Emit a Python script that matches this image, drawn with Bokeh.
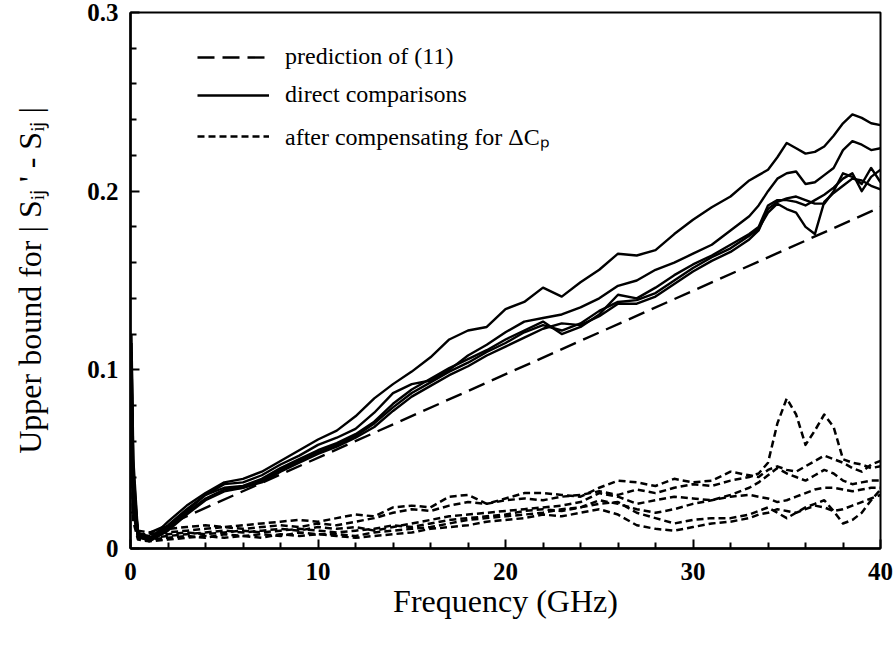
from bokeh.plotting import figure
from bokeh.models import (Range1d, FixedTicker, CustomJSTickFormatter,
                          Legend, LegendItem)
from bokeh.embed import file_html
from bokeh.resources import INLINE

# ---------------- data ----------------
FREQ = [0.05, 0.15, 0.4, 1, 2, 3, 4, 5, 6, 7, 8, 9, 10, 11, 12, 13, 14, 15, 16,
        17, 18, 19, 20, 21, 22, 23, 24, 25, 26, 27, 28, 29, 30, 31, 32,
        33, 33.5, 34, 34.5, 35, 35.5, 36, 36.5, 37, 37.5, 38, 38.5, 39, 39.5, 40]

PRED_F = [1.0, 40.0]
PRED_V = [0.0087, 0.191]

DIRECT_1 = [0.12, 0.05, 0.008,
            0.005, 0.015, 0.024, 0.031, 0.037, 0.039, 0.043, 0.049, 0.055, 0.061,
            0.066, 0.074, 0.084, 0.092, 0.099, 0.107, 0.117, 0.122, 0.124, 0.134,
            0.138, 0.146, 0.141, 0.149, 0.156, 0.165, 0.164, 0.167, 0.176, 0.184,
            0.191, 0.197,
            0.206, 0.209, 0.212, 0.219, 0.227, 0.224, 0.221, 0.222, 0.225, 0.231,
            0.238, 0.243, 0.241, 0.238, 0.237]
DIRECT_2 = [0.11, 0.04, 0.007,
            0.005, 0.013, 0.022, 0.030, 0.036, 0.037, 0.041, 0.047, 0.052, 0.058,
            0.062, 0.067, 0.076, 0.087, 0.092, 0.094, 0.100, 0.108, 0.114, 0.121,
            0.127, 0.129, 0.131, 0.135, 0.140, 0.147, 0.150, 0.156, 0.160, 0.165,
            0.170, 0.178,
            0.186, 0.192, 0.200, 0.207, 0.210, 0.211, 0.204, 0.205, 0.209, 0.213,
            0.223, 0.228, 0.226, 0.223, 0.224]
DIRECT_3 = [0.10, 0.035, 0.009,
            0.006, 0.012, 0.021, 0.030, 0.034, 0.035, 0.039, 0.045, 0.050, 0.055,
            0.059, 0.064, 0.071, 0.081, 0.089, 0.095, 0.101, 0.106, 0.111, 0.117,
            0.122, 0.127, 0.120, 0.124, 0.131, 0.142, 0.140, 0.146, 0.153, 0.159,
            0.164, 0.170,
            0.176, 0.180, 0.192, 0.195, 0.195, 0.194, 0.192, 0.195, 0.198, 0.202,
            0.207, 0.210, 0.200, 0.208, 0.212]
DIRECT_4 = [0.09, 0.03, 0.006,
            0.005, 0.011, 0.020, 0.028, 0.033, 0.034, 0.038, 0.044, 0.049, 0.054,
            0.058, 0.063, 0.070, 0.079, 0.087, 0.093, 0.099, 0.104, 0.110, 0.115,
            0.121, 0.125, 0.122, 0.126, 0.133, 0.138, 0.139, 0.143, 0.150, 0.157,
            0.163, 0.168,
            0.175, 0.179, 0.188, 0.193, 0.190, 0.188, 0.180, 0.176, 0.194, 0.199,
            0.203, 0.207, 0.206, 0.203, 0.201]
DIRECT_5 = [0.115, 0.045, 0.007,
            0.004, 0.010, 0.019, 0.027, 0.032, 0.034, 0.037, 0.043, 0.048, 0.053,
            0.057, 0.062, 0.068, 0.077, 0.085, 0.091, 0.097, 0.102, 0.108, 0.113,
            0.118, 0.123, 0.126, 0.125, 0.130, 0.137, 0.137, 0.141, 0.148, 0.155,
            0.161, 0.166,
            0.173, 0.178, 0.190, 0.194, 0.196, 0.197, 0.195, 0.193, 0.193, 0.200,
            0.210, 0.208, 0.204, 0.213, 0.205]

COMP_1 = [0.10, 0.03, 0.008,
          0.008, 0.009, 0.010, 0.011, 0.012, 0.011, 0.012, 0.013, 0.012, 0.014,
          0.013, 0.015, 0.017, 0.020, 0.022, 0.021, 0.024, 0.026, 0.025, 0.027,
          0.028, 0.027, 0.029, 0.030, 0.032, 0.030, 0.033, 0.031, 0.034, 0.036,
          0.035, 0.038,
          0.040, 0.042, 0.048, 0.070, 0.084, 0.075, 0.058, 0.066, 0.075, 0.068,
          0.050, 0.048, 0.047, 0.045, 0.046]
COMP_2 = [0.09, 0.025, 0.010,
          0.009, 0.011, 0.012, 0.013, 0.012, 0.013, 0.014, 0.015, 0.016, 0.015,
          0.017, 0.019, 0.018, 0.023, 0.024, 0.023, 0.029, 0.030, 0.025, 0.028,
          0.031, 0.031, 0.030, 0.029, 0.034, 0.038, 0.037, 0.035, 0.039, 0.037,
          0.038, 0.043,
          0.041, 0.040, 0.044, 0.046, 0.044, 0.043, 0.046, 0.049, 0.052, 0.050,
          0.048, 0.045, 0.043, 0.047, 0.049]
COMP_3 = [0.08, 0.02, 0.007,
          0.006, 0.007, 0.008, 0.009, 0.010, 0.009, 0.010, 0.011, 0.010, 0.012,
          0.011, 0.012, 0.010, 0.012, 0.014, 0.016, 0.018, 0.019, 0.020, 0.021,
          0.022, 0.023, 0.024, 0.026, 0.031, 0.029, 0.025, 0.027, 0.029, 0.028,
          0.027, 0.030,
          0.034, 0.037, 0.041, 0.045, 0.042, 0.040, 0.038, 0.041, 0.044, 0.042,
          0.038, 0.036, 0.037, 0.038, 0.038]
COMP_4 = [0.07, 0.02, 0.006,
          0.005, 0.006, 0.007, 0.006, 0.008, 0.007, 0.008, 0.007, 0.009, 0.008,
          0.008, 0.007, 0.009, 0.010, 0.011, 0.012, 0.014, 0.016, 0.017, 0.018,
          0.019, 0.020, 0.022, 0.023, 0.025, 0.026, 0.020, 0.017, 0.014, 0.016,
          0.017, 0.017,
          0.019, 0.021, 0.023, 0.020, 0.017, 0.020, 0.023, 0.025, 0.027, 0.021,
          0.014, 0.016, 0.020, 0.027, 0.033]
COMP_5 = [0.06, 0.02, 0.008,
          0.007, 0.008, 0.009, 0.008, 0.009, 0.010, 0.009, 0.010, 0.011, 0.010,
          0.009, 0.010, 0.011, 0.013, 0.012, 0.014, 0.016, 0.017, 0.018, 0.019,
          0.021, 0.022, 0.021, 0.023, 0.027, 0.025, 0.022, 0.020, 0.022, 0.025,
          0.027, 0.029,
          0.030, 0.029, 0.028, 0.026, 0.027, 0.029, 0.031, 0.033, 0.034, 0.034,
          0.033, 0.032, 0.033, 0.034, 0.034]
COMP_6 = [0.05, 0.015, 0.005,
          0.004, 0.005, 0.006, 0.007, 0.006, 0.007, 0.006, 0.008, 0.007, 0.008,
          0.007, 0.006, 0.007, 0.008, 0.009, 0.011, 0.012, 0.013, 0.015, 0.016,
          0.017, 0.019, 0.018, 0.020, 0.022, 0.019, 0.013, 0.011, 0.010, 0.012,
          0.014, 0.015,
          0.017, 0.019, 0.020, 0.022, 0.021, 0.020, 0.022, 0.024, 0.023, 0.021,
          0.022, 0.024, 0.026, 0.028, 0.030]

DIRECT = [DIRECT_1, DIRECT_2, DIRECT_3, DIRECT_4, DIRECT_5]
COMP = [COMP_1, COMP_2, COMP_3, COMP_4, COMP_5, COMP_6]
for s in DIRECT + COMP:
    assert len(s) == len(FREQ), len(s)

X_TICKS = [0, 10, 20, 30, 40]
X_MINOR = [2, 4, 6, 8, 12, 14, 16, 18, 22, 24, 26, 28, 32, 34, 36, 38]
Y_TICKS = [0, 0.1, 0.2, 0.3]
Y_MINOR = [0.02, 0.04, 0.06, 0.08, 0.12, 0.14, 0.16, 0.18, 0.22, 0.24, 0.26, 0.28]

X_TITLE = "Frequency (GHz)"
Y_TITLE = "Upper bound for | S\u1d62\u2c7c ' - S\u1d62\u2c7c |"
LEGEND_LABELS = ["prediction of (11)", "direct comparisons",
                 "after compensating for \u0394C\u209a"]

# ---------------- figure ----------------
W, H = 895, 645
FONT = "Liberation Serif"

p = figure(width=W, height=H, output_backend="svg", toolbar_location=None,
           x_range=Range1d(0, 40), y_range=Range1d(0, 0.3),
           min_border_left=130, min_border_right=15,
           min_border_top=12, min_border_bottom=97)
p.background_fill_color = "white"
p.border_fill_color = "white"
p.grid.visible = False
p.outline_line_color = "black"
p.outline_line_width = 2

for ax in (p.xaxis[0], p.yaxis[0]):
    ax.axis_line_width = 2.5
    ax.axis_line_color = "black"
    ax.major_tick_in = 9
    ax.major_tick_out = 0
    ax.minor_tick_in = 6
    ax.minor_tick_out = 0
    ax.major_tick_line_width = 2
    ax.minor_tick_line_width = 2
    ax.major_label_text_font = FONT
    ax.major_label_text_font_size = "25px"
    ax.major_label_text_font_style = "bold"
    ax.major_label_text_color = "black"
    ax.axis_label_text_font = FONT
    ax.axis_label_text_font_size = "32px"
    ax.axis_label_text_font_style = "normal"
    ax.axis_label_text_color = "black"

p.xaxis.ticker = FixedTicker(ticks=X_TICKS, minor_ticks=X_MINOR)
p.yaxis.ticker = FixedTicker(ticks=Y_TICKS, minor_ticks=Y_MINOR)
p.yaxis.formatter = CustomJSTickFormatter(
    code="return tick == 0 ? '0' : tick.toFixed(1);")
p.xaxis.major_label_standoff = 14
p.yaxis.major_label_standoff = 12

p.xaxis.axis_label = X_TITLE
p.xaxis.axis_label_standoff = 0
p.yaxis.axis_label = Y_TITLE
p.yaxis.axis_label_standoff = 36

# ---------------- curves ----------------
pred = p.line(PRED_F, PRED_V, line_color="black", line_width=2.4,
              line_dash="17 8")
direct_r = None
for s in DIRECT:
    r = p.line(FREQ, s, line_color="black", line_width=2.4, line_join="round")
    direct_r = direct_r or r
comp_r = None
for s in COMP:
    r = p.line(FREQ, s, line_color="black", line_width=2.5, line_dash="7 4",
               line_join="round")
    comp_r = comp_r or r

legend = Legend(items=[LegendItem(label=LEGEND_LABELS[0], renderers=[pred]),
                       LegendItem(label=LEGEND_LABELS[1], renderers=[direct_r]),
                       LegendItem(label=LEGEND_LABELS[2], renderers=[comp_r])],
                location=(67, 396), orientation="vertical")
legend.border_line_alpha = 0
legend.background_fill_alpha = 0
legend.label_text_font = FONT
legend.label_text_font_size = "24px"
legend.label_text_color = "black"
legend.glyph_width = 72
legend.glyph_height = 20
legend.spacing = 11
legend.label_standoff = 16
legend.padding = 0
legend.margin = 0
p.add_layout(legend, "center")

open("out.html", "w").write(file_html(p, INLINE))
